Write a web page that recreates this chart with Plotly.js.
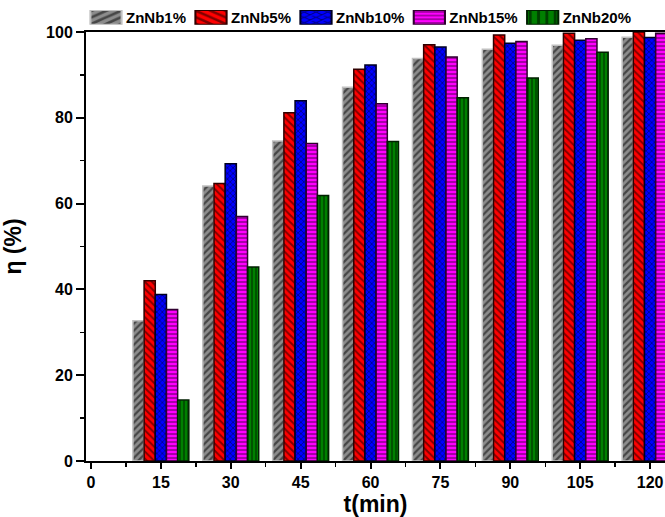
<!DOCTYPE html>
<html>
<head>
<meta charset="utf-8">
<script src="https://cdn.plot.ly/plotly-3.0.1.min.js"></script>
<style>html,body{margin:0;padding:0;background:#fff;}#chart{width:665px;height:517px;}</style>
</head>
<body>
<div id="chart"></div>
<script>
const times = [15, 30, 45, 60, 75, 90, 105, 120];
const seriesNames = ["ZnNb1%", "ZnNb5%", "ZnNb10%", "ZnNb15%", "ZnNb20%"];
const znnb1  = [32.7, 64.1, 74.6, 87.1, 93.8, 96.0, 96.9, 98.8];
const znnb5  = [42.0, 64.7, 81.2, 91.3, 97.0, 99.3, 99.7, 100.0];
const znnb10 = [38.8, 69.3, 84.0, 92.3, 96.5, 97.4, 98.1, 98.7];
const znnb15 = [35.3, 57.0, 74.0, 83.3, 94.2, 97.8, 98.4, 99.7];
const znnb20 = [14.2, 45.2, 61.9, 74.5, 84.7, 89.3, 95.3, 97.5];
const xTicks = [0, 15, 30, 45, 60, 75, 90, 105, 120];
const yTicks = [0, 20, 40, 60, 80, 100];

const values = [znnb1, znnb5, znnb10, znnb15, znnb20];
const styles = [
  {bg: "#8c8c8c", fg: "#000000", shape: "/",  line: "#c0c0c0", size: 5, sol: 0.45},
  {bg: "#ff0000", fg: "#000000", shape: "\\", line: "#300000", size: 5, sol: 0.4},
  {bg: "#0000ff", fg: "#000000", shape: "x",  line: "#000020", size: 4, sol: 0.35},
  {bg: "#ff00ff", fg: "#000000", shape: "-",  line: "#300030", size: 4, sol: 0.35},
  {bg: "#008000", fg: "#000000", shape: "|",  line: "#002000", size: 4, sol: 0.35}
];

const font = {family: "Liberation Sans, Arial, sans-serif", color: "#000", weight: 700};

const data = values.map((v, i) => ({
  type: "bar",
  name: seriesNames[i],
  x: times,
  y: v,
  marker: {
    color: styles[i].bg,
    line: {color: styles[i].line, width: 1.5},
    pattern: {shape: styles[i].shape, fillmode: "overlay", fgcolor: styles[i].fg,
              size: styles[i].size, solidity: styles[i].sol}
  }
}));

const layout = {
  width: 665, height: 517,
  margin: {l: 86, r: 0, t: 32, b: 56},
  paper_bgcolor: "#fff", plot_bgcolor: "#fff",
  barmode: "group", bargap: 0.2, bargroupgap: 0,
  showlegend: true,
  legend: {orientation: "h", x: 0.0, xanchor: "left", y: 0.995, yanchor: "bottom",
           font: Object.assign({}, font, {size: 15}), bgcolor: "rgba(0,0,0,0)",
           traceorder: "normal", itemwidth: 30, tracegroupgap: 0},
  xaxis: {
    range: [-1.07, 123.2], tickvals: xTicks, ticktext: xTicks.map(String),
    ticks: "outside", ticklen: 6, tickwidth: 2, tickcolor: "#000",
    minor: {dtick: 7.5, tick0: 7.5, ticks: "outside", ticklen: 4, tickwidth: 1.5, tickcolor: "#000"},
    showline: true, linecolor: "#000", linewidth: 2, mirror: true,
    showgrid: false, zeroline: false,
    tickfont: Object.assign({}, font, {size: 16}),
    title: {text: "t(min)", font: Object.assign({}, font, {size: 23}), standoff: 7}
  },
  yaxis: {
    range: [0, 100], tickvals: yTicks, ticktext: yTicks.map(String),
    ticks: "outside", ticklen: 8, tickwidth: 2, tickcolor: "#000",
    minor: {dtick: 10, tick0: 10, ticks: "outside", ticklen: 4, tickwidth: 1.5, tickcolor: "#000"},
    showline: true, linecolor: "#000", linewidth: 2, mirror: true,
    showgrid: false, zeroline: false,
    tickfont: Object.assign({}, font, {size: 16}),
    title: {text: "η (%)", font: Object.assign({}, font, {size: 23}), standoff: 20}
  }
};

Plotly.newPlot("chart", data, layout, {displayModeBar: false, staticPlot: true}).then(function (gd) {
  // widen legend swatches (about their own centre) to resemble the reference's wide pattern boxes
  gd.querySelectorAll(".legend .legendpoints path").forEach(function (p) {
    const b = p.getBBox();
    const cx = b.x + b.width / 2, cy = b.y + b.height / 2;
    const prev = p.getAttribute("transform") || "";
    p.setAttribute("transform", prev + " translate(" + cx + "," + cy + ") scale(2.6,1.15) translate(" + (-cx) + "," + (-cy) + ")");
    p.style.strokeWidth = "0.8px";
  });
});
</script>
</body>
</html>
